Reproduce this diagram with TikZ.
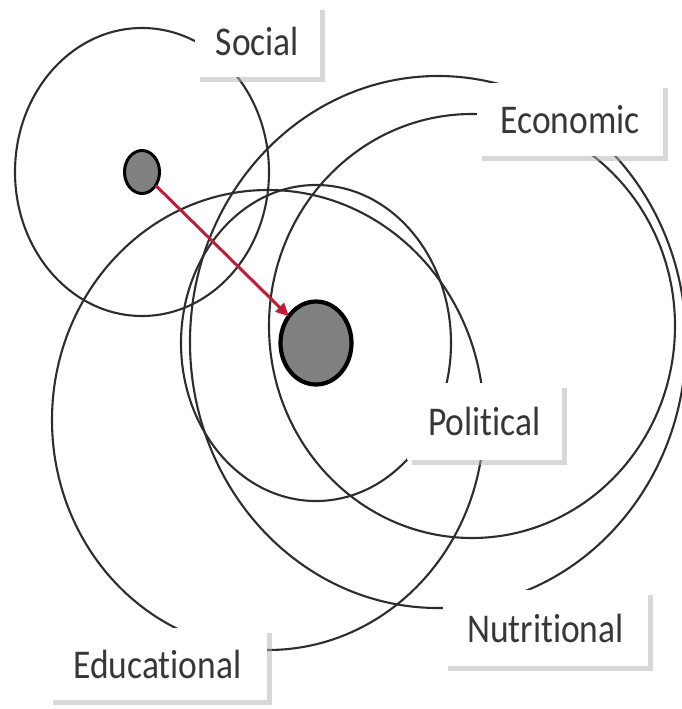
\documentclass[tikz,border=0pt]{standalone}
\usepackage{fontspec}
\usepackage{graphicx}
\setmainfont{Carlito}[Ligatures=NoCommon]
\usetikzlibrary{shapes.geometric,arrows.meta,shadows}
\definecolor{ringgray}{RGB}{45,45,45}
\definecolor{dotgray}{RGB}{128,128,128}
\definecolor{arrowred}{RGB}{190,30,55}
\definecolor{labeltext}{RGB}{55,55,55}
\begin{document}
\begin{tikzpicture}[x=1pt,y=-1pt,
  ring/.style={ellipse, draw=ringgray, line width=2.1pt, inner sep=0pt, outer sep=0pt},
  dot/.style={ellipse, draw=black, fill=dotgray, inner sep=0pt, outer sep=0pt},
  lbl/.style={rectangle, fill=white, inner sep=0pt, text=labeltext,
    font=\fontsize{35.5}{40}\selectfont,
    drop shadow={shadow xshift=5pt, shadow yshift=-5pt, fill=black!30}},
  arr/.style={draw=arrowred, line width=3pt, -{Triangle[length=13pt,width=12pt]}}
]
\useasboundingbox (0,0) rectangle (681,709);
\fill[white] (0,0) rectangle (681,709);
% rings
\node[ring, minimum width=254pt, minimum height=288pt] (socialring) at (142,172) {};
\node[ring, minimum width=270pt, minimum height=316pt] (politicalring) at (316,343) {};
\node[ring, minimum width=432pt, minimum height=460pt] (educationalring) at (268,420) {};
\node[ring, minimum width=406pt, minimum height=424pt] (economicring) at (472,326) {};
\node[ring, minimum width=496pt, minimum height=532pt] (nutritionalring) at (438,342) {};
% dots
\node[dot, line width=3pt, minimum width=35pt, minimum height=43pt] (sdot) at (142,172) {};
\node[dot, line width=4.2pt, minimum width=71pt, minimum height=83pt] (bdot) at (316,343) {};
\draw[arr] (sdot) -- (bdot);
% labels
\node[lbl, minimum width=125pt, minimum height=72pt] (social) at (257.5,41) {\scalebox{1}[1.15]{Social}};
\node[lbl, minimum width=186pt, minimum height=73pt] (economic) at (570,119.5) {\scalebox{1}[1.15]{Economic}};
\node[lbl, minimum width=155pt, minimum height=77pt] (political) at (484.5,421.5) {\scalebox{1}[1.15]{Political}};
\node[lbl, minimum width=205pt, minimum height=76pt] (nutritional) at (545.5,628) {\scalebox{1}[1.15]{Nutritional}};
\node[lbl, minimum width=219pt, minimum height=72pt] (educational) at (157.5,664) {\scalebox{1}[1.15]{Educational}};
\end{tikzpicture}
\end{document}
